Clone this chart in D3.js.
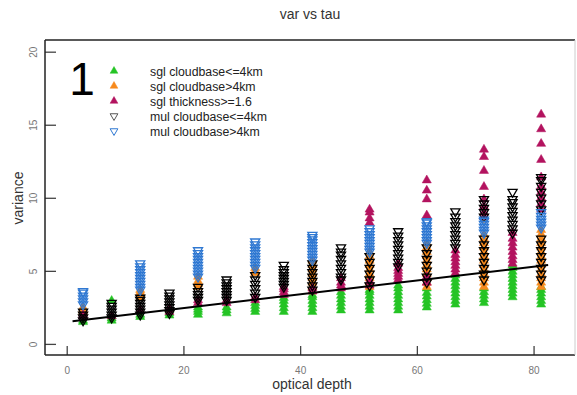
<!DOCTYPE html>
<html>
<head>
<meta charset="utf-8">
<script src="https://cdn.jsdelivr.net/npm/d3@7"></script>
<style>
  html, body { margin: 0; padding: 0; background: #fff; }
  svg { display: block; font-family: "Liberation Sans", Arial, sans-serif; }
</style>
</head>
<body>
<svg id="chart" width="577" height="395"></svg>
<script>
// optical-depth bin positions (one column of points per bin)
const tau = [2.8, 7.7, 12.6, 17.6, 22.5, 27.4, 32.3, 37.2, 42.1, 47.0, 51.9, 56.8, 61.7, 66.6, 71.5, 76.4, 81.3];

// variance values per bin, one array per series
const sglLow = [
  [1.5, 1.6], [1.6, 1.75, 1.9, 2.95], [1.85, 2.0], [1.95, 2.1, 2.3], [2.0, 2.2, 2.35, 2.5],
  [2.1, 2.3, 2.5], [2.2, 2.4, 2.6, 2.8], [2.2, 2.45, 2.7, 2.95, 3.15],
  [2.2, 2.45, 2.7, 2.95, 3.2, 3.35], [2.3, 2.55, 2.8, 3.05, 3.3, 3.55],
  [2.3, 2.55, 2.8, 3.05, 3.3, 3.55, 3.7], [2.3, 2.55, 2.8, 3.05, 3.3, 3.55, 3.8, 4.0],
  [2.5, 2.75, 3.0, 3.25, 3.5, 3.8], [2.7, 2.95, 3.2, 3.45, 3.7, 3.95, 4.2, 4.45, 4.7],
  [2.8, 3.05, 3.3, 3.55, 3.8], [3.2, 3.45, 3.7, 3.95, 4.2, 4.45, 4.7, 4.95, 5.2, 5.4],
  [2.7, 2.95, 3.2, 3.45, 3.7, 3.9]
];
const sglHigh = [
  [2.2, 2.35, 2.5], [], [3.15, 3.35, 3.55, 3.7], [], [3.9, 4.1, 4.3, 4.6], [],
  [4.85, 5.0, 5.2], [], [3.6, 3.9, 4.2, 4.5, 4.8, 5.1, 5.4, 5.7], [],
  [3.9, 4.2, 4.5, 4.8, 5.1, 5.4, 5.7, 6.0, 6.3], [],
  [3.9, 4.2, 4.5, 4.8, 5.1, 5.4, 5.7, 6.0, 6.3, 6.6, 6.9], [],
  [3.9, 4.2, 4.5, 4.8, 5.1, 5.4, 5.7, 6.0, 6.3, 6.6, 6.9, 7.2, 7.5], [],
  [3.9, 4.2, 4.5, 4.8, 5.1, 5.4, 5.7, 6.0, 6.3, 6.6, 6.9, 7.2, 7.5, 7.8]
];
const sglThick = [
  [1.9, 2.0], [1.9], [2.3], [2.2, 2.4], [2.8, 3.0], [2.8, 3.0], [3.0, 3.2],
  [3.35, 3.55, 3.75, 3.9], [3.6, 3.8], [3.8, 4.0, 4.2, 4.5],
  [4.0, 4.3, 8.3, 8.6, 9.0, 9.2], [4.4, 4.6, 4.8, 5.0, 5.2, 5.5],
  [4.2, 4.6, 8.8, 9.9, 10.5, 11.2], [4.85, 5.1, 5.35, 5.6, 5.85, 6.1, 6.4],
  [8.7, 9.0, 9.4, 9.9, 10.75, 11.85, 12.8, 13.3], [5.5, 5.75, 6.0, 6.3, 6.6, 6.9, 7.2, 7.6],
  [9.2, 9.6, 10.0, 10.4, 10.8, 11.4, 12.6, 13.7, 14.7, 15.7]
];
const mulLow = [
  [1.6, 1.8, 2.0, 2.2], [1.8, 2.0, 2.2, 2.4, 2.6, 2.8], [2.0, 2.2, 2.4, 2.6, 2.8, 3.0, 3.15],
  [2.1, 2.3, 2.5, 2.7, 2.9, 3.1, 3.3, 3.5], [3.0, 3.2, 3.4, 3.6, 3.9],
  [3.0, 3.2, 3.4, 3.6, 3.8, 4.0, 4.2, 4.4], [3.2, 3.5, 3.8, 4.1, 4.4, 4.7],
  [3.9, 4.1, 4.3, 4.5, 4.7, 4.9, 5.1, 5.4], [3.7, 4.0, 4.3, 4.6, 4.9, 5.2, 5.5],
  [4.4, 4.6, 4.9, 5.2, 5.5, 5.8, 6.1, 6.3, 6.6], [4.0, 4.4, 4.8, 5.2, 5.6, 6.0],
  [5.3, 5.6, 5.9, 6.2, 6.5, 6.8, 7.1, 7.4, 7.7], [4.2, 4.6, 5.0, 5.4, 5.8, 6.2, 6.6],
  [6.6, 6.9, 7.2, 7.5, 7.8, 8.1, 8.4, 8.7, 9.06],
  [4.4, 4.8, 5.2, 5.6, 6.0, 6.4, 6.8, 7.2, 8.7, 9.0, 9.3, 9.6, 9.9],
  [7.6, 7.9, 8.2, 8.5, 8.8, 9.1, 9.4, 9.7, 9.9, 10.4],
  [4.4, 4.8, 5.2, 5.6, 6.0, 6.4, 6.8, 7.2, 9.2, 9.6, 10.0, 10.4, 10.8, 11.2, 11.4]
];
const mulHigh = [
  [2.7, 2.9, 3.1, 3.3, 3.5, 3.6], [], [3.7, 3.9, 4.1, 4.3, 4.5, 4.7, 4.9, 5.1, 5.3, 5.5], [],
  [4.6, 4.8, 5.0, 5.2, 5.4, 5.6, 5.8, 6.0, 6.2, 6.4], [],
  [5.2, 5.4, 5.6, 5.8, 6.0, 6.2, 6.4, 6.6, 6.8, 7.0], [],
  [5.75, 5.95, 6.15, 6.35, 6.55, 6.75, 6.95, 7.15, 7.3, 7.45], [],
  [6.3, 6.5, 6.7, 6.9, 7.1, 7.3, 7.5, 7.7, 7.9], [],
  [6.9, 7.1, 7.3, 7.5, 7.7, 7.9, 8.1, 8.3, 8.4], [],
  [7.6, 7.8, 8.0, 8.2, 8.4, 8.5], [],
  [7.95, 8.15, 8.35, 8.55, 8.75, 9.0]
];

// least-squares fit drawn across the data (endpoints in data units)
const fitTau = [1.0, 82.5];
const fitVar = [1.55, 5.4];

const seriesNames = ["sgl cloudbase<=4km", "sgl cloudbase>4km", "sgl thickness>=1.6", "mul cloudbase<=4km", "mul cloudbase>4km"];
const seriesColors = ["#25c425", "#f7891c", "#b3135f", "#000000", "#2f78d2"];
const seriesFilled = [true, true, true, false, false];
const seriesData = [sglLow, sglHigh, sglThick, mulLow, mulHigh];

const xTicks = [0, 20, 40, 60, 80];
const yTicks = [0, 5, 10, 15, 20];

const svg = d3.select("#chart");
const plot = { left: 45, right: 575, top: 40, bottom: 355 };

const x = d3.scaleLinear().domain([-3.72, 87.1]).range([plot.left, plot.right]);
const y = d3.scaleLinear().domain([-0.76, 20.8]).range([plot.bottom, plot.top]);

// title and axis titles
svg.append("text").attr("x", 310).attr("y", 19).attr("text-anchor", "middle")
  .attr("font-size", 14).attr("fill", "#333").text("var vs tau");
svg.append("text").attr("x", 312).attr("y", 389).attr("text-anchor", "middle")
  .attr("font-size", 14).attr("fill", "#333").text("optical depth");
svg.append("text").attr("transform", "translate(23,198) rotate(-90)").attr("text-anchor", "middle")
  .attr("font-size", 14).attr("fill", "#333").text("variance");

// axes with inward ticks
const xAxis = d3.axisBottom(x).tickValues(xTicks).tickSizeInner(-9).tickSizeOuter(0).tickPadding(12);
const gx = svg.append("g").attr("transform", `translate(0,${plot.bottom})`).call(xAxis);
gx.select(".domain").remove();
gx.selectAll(".tick line").attr("stroke", "#444").attr("stroke-width", 1.3);
gx.selectAll(".tick text").attr("font-size", 10).attr("fill", "#777").attr("font-family", "Liberation Sans, Arial, sans-serif");

const yAxis = d3.axisLeft(y).tickValues(yTicks).tickSizeInner(-11).tickSizeOuter(0).tickPadding(4);
const gy = svg.append("g").attr("transform", `translate(${plot.left},0)`).call(yAxis);
gy.select(".domain").remove();
gy.selectAll(".tick line").attr("stroke", "#444").attr("stroke-width", 1.3);
gy.selectAll(".tick text").attr("font-size", 10).attr("fill", "#777")
  .attr("font-family", "Liberation Sans, Arial, sans-serif")
  .attr("text-anchor", "middle").attr("x", 0).attr("dy", 0)
  .attr("transform", "translate(-8,0) rotate(-90)");

// plot frame
svg.append("line").attr("x1", plot.left).attr("x2", plot.right).attr("y1", plot.top).attr("y2", plot.top)
  .attr("stroke", "#222").attr("stroke-width", 1.5);
svg.append("line").attr("x1", plot.left).attr("x2", plot.right).attr("y1", plot.bottom).attr("y2", plot.bottom)
  .attr("stroke", "#222").attr("stroke-width", 1.5);
svg.append("line").attr("x1", plot.left).attr("x2", plot.left).attr("y1", plot.top).attr("y2", plot.bottom)
  .attr("stroke", "#222").attr("stroke-width", 1.5);
svg.append("line").attr("x1", plot.right).attr("x2", plot.right).attr("y1", plot.top).attr("y2", plot.bottom)
  .attr("stroke", "#ccc").attr("stroke-width", 1);

const tri = d3.symbol().type(d3.symbolTriangle).size(36)();
const triLegend = d3.symbol().type(d3.symbolTriangle).size(26)();

// points, series by series
seriesData.forEach((cols, si) => {
  const pts = [];
  cols.forEach((vals, ci) => vals.forEach(v => pts.push([tau[ci], v])));
  const g = svg.append("g");
  g.selectAll("path").data(pts).join("path")
    .attr("d", tri)
    .attr("transform", d => `translate(${x(d[0])},${y(d[1])})` + (seriesFilled[si] ? "" : " rotate(180)"))
    .attr("fill", seriesFilled[si] ? seriesColors[si] : "none")
    .attr("stroke", seriesColors[si])
    .attr("stroke-width", seriesFilled[si] ? 0.5 : 1.3);
});

// fitted line
svg.append("line")
  .attr("x1", x(fitTau[0])).attr("y1", y(fitVar[0]))
  .attr("x2", x(fitTau[1])).attr("y2", y(fitVar[1]))
  .attr("stroke", "#000").attr("stroke-width", 2);

// panel label
svg.append("text").attr("x", 82).attr("y", 95).attr("text-anchor", "middle")
  .attr("font-size", 46).attr("fill", "#000").text("1");

// legend
const leg = svg.append("g");
seriesNames.forEach((name, i) => {
  const ly = 71 + i * 15;
  leg.append("path").attr("d", triLegend)
    .attr("transform", `translate(114,${ly})` + (seriesFilled[i] ? "" : " rotate(180)"))
    .attr("fill", seriesFilled[i] ? seriesColors[i] : "none")
    .attr("stroke", seriesColors[i] === "#000000" ? "#555" : seriesColors[i])
    .attr("stroke-width", seriesFilled[i] ? 0.5 : 1);
  leg.append("text").attr("x", 150).attr("y", ly + 4.5).attr("font-size", 12.3).attr("fill", "#222").text(name);
});
</script>
</body>
</html>
